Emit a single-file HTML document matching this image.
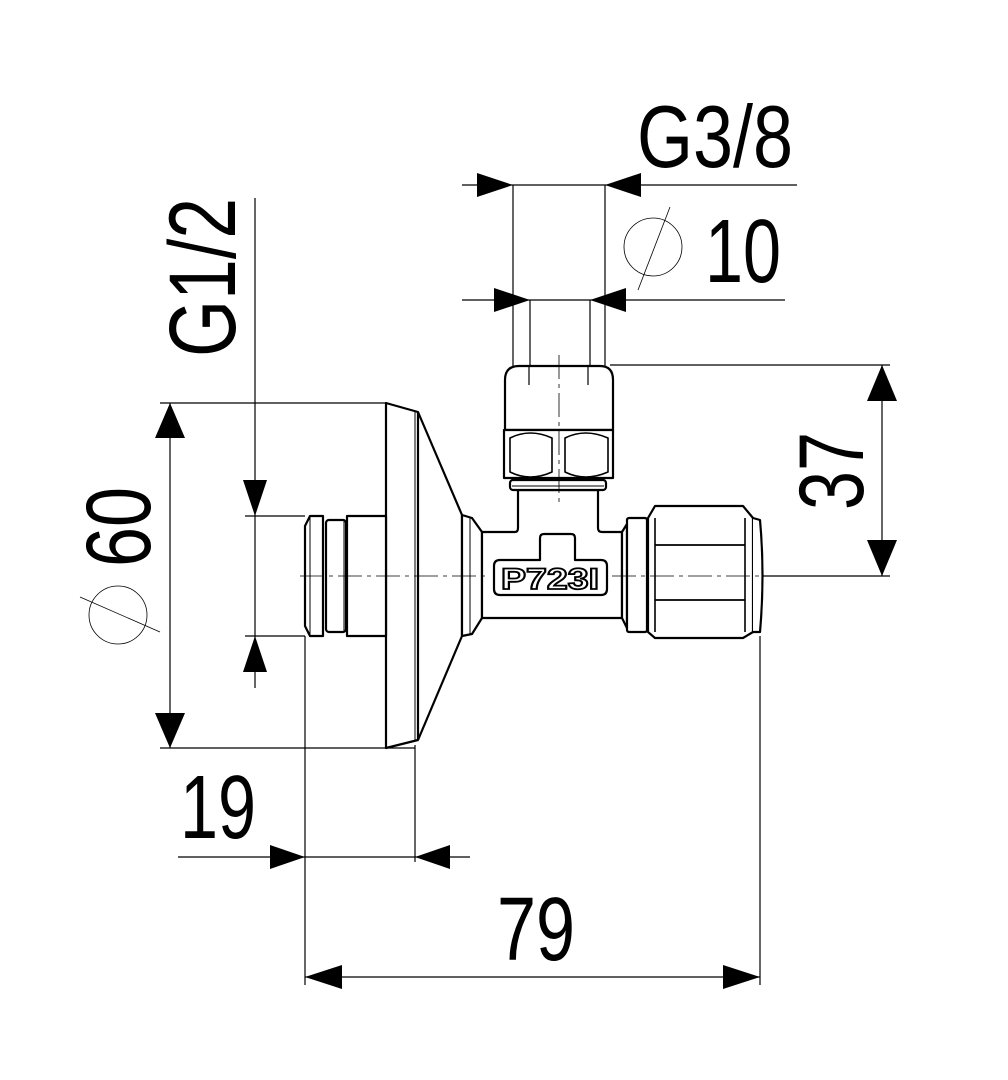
<!DOCTYPE html>
<html><head><meta charset="utf-8"><style>html,body{margin:0;padding:0;background:#fff}svg{display:block}</style></head><body>
<svg width="1008" height="1080" viewBox="0 0 1008 1080" xmlns="http://www.w3.org/2000/svg">
<g fill="none" stroke="#000" stroke-width="1.2">
<line x1="255" y1="198" x2="255" y2="688"/>
<line x1="245" y1="516" x2="305" y2="516"/>
<line x1="245" y1="636" x2="305" y2="636"/>
<line x1="170" y1="403" x2="170" y2="748"/>
<line x1="160" y1="403" x2="386" y2="403"/>
<line x1="160" y1="748" x2="415" y2="748"/>
<line x1="178" y1="857" x2="470" y2="857"/>
<line x1="305" y1="636" x2="305" y2="985"/>
<line x1="415" y1="745" x2="415" y2="862"/>
<line x1="305" y1="977" x2="760" y2="977"/>
<line x1="760" y1="636" x2="760" y2="985"/>
<line x1="882" y1="365" x2="882" y2="576"/>
<line x1="610" y1="365" x2="890" y2="365"/>
<line x1="762" y1="576" x2="890" y2="576"/>
<line x1="462" y1="185" x2="797" y2="185"/>
<line x1="513" y1="185" x2="513" y2="368"/>
<line x1="605" y1="185" x2="605" y2="368"/>
<line x1="462" y1="300" x2="785" y2="300"/>
<line x1="530" y1="300" x2="530" y2="385"/>
<line x1="590" y1="300" x2="590" y2="385"/>
<circle cx="118" cy="615" r="29" stroke-width="0.8"/>
<line x1="80" y1="597" x2="160" y2="632" stroke-width="0.8"/>
<circle cx="653" cy="247" r="29" stroke-width="0.8"/>
<line x1="638" y1="290" x2="670" y2="207" stroke-width="0.8"/>
</g>
<g fill="#000">
<polygon points="255,516 243,480 267,480"/>
<polygon points="255,636 243,672 267,672"/>
<polygon points="170,403 155,438 185,438"/>
<polygon points="170,748 155,713 185,713"/>
<polygon points="305,857 270,845 270,869"/>
<polygon points="415,857 450,845 450,869"/>
<polygon points="305,977 342,965 342,989"/>
<polygon points="760,977 723,965 723,989"/>
<polygon points="882,365 867,401 897,401"/>
<polygon points="882,576 867,540 897,540"/>
<polygon points="513,185 477,173 477,197"/>
<polygon points="605,185 641,173 641,197"/>
<polygon points="530,300 494,288 494,312"/>
<polygon points="590,300 626,288 626,312"/>
</g>
<g fill="#fff" stroke="#000" stroke-width="2.2" stroke-linejoin="round">
<path d="M386,403 L418,412 L462,515 L462,636 L418,740 L386,748 Z"/>
<line x1="418" y1="412" x2="418" y2="740"/>
<line x1="415" y1="412" x2="415" y2="740" stroke-width="1"/>
<rect x="347" y="516" width="39" height="120"/>
<path d="M305,526 L310,516 L323,516 L323,636 L310,636 L305,626 Z"/>
<line x1="310" y1="516" x2="310" y2="636" stroke-width="1"/>
<rect x="326" y="520" width="20" height="112" rx="3"/>
<line x1="344" y1="520" x2="344" y2="632" stroke-width="1"/>
<path d="M462,515 L472,518 L482,532 L482,618 L472,634 L462,636 Z"/>
<line x1="470" y1="518" x2="470" y2="634" stroke-width="1"/>
<path d="M482,532 L515,532 Q518,532 518,528 L518,490 L598,490 L598,528 Q598,532 602,532 L622,532 L622,618 L482,618 Z"/>
<rect x="510" y="480" width="96" height="10" rx="3"/>
<line x1="512" y1="486" x2="604" y2="486" stroke-width="1"/>
<path d="M505,380 Q505,366 519,366 L600,366 Q613,366 613,380 L613,430 L505,430 Z"/>
<rect x="504" y="430" width="109" height="48"/>
<path d="M510,438 Q530,428 552,438 L552,472 Q530,482 510,472 Z" stroke-width="1.6"/>
<path d="M565,438 Q585,428 608,438 L608,472 Q585,482 565,472 Z" stroke-width="1.6"/>
<line x1="529" y1="367" x2="529" y2="385" stroke-width="1.2"/>
<line x1="588" y1="367" x2="588" y2="385" stroke-width="1.2"/>
<path d="M494,566 Q494,560 500,560 L540,560 L540,538 Q540,534 544,534 L571,534 Q575,534 575,538 L575,560 L601,560 Q607,560 607,566 L607,589 Q607,595 601,595 L500,595 Q494,595 494,589 Z"/>
<path d="M622,532 L627,524 L627,628 L622,618 Z"/>
<rect x="627" y="518" width="20" height="114" rx="2"/>
<path d="M648,518 L655,506 L743,506 L753,518 L753,632 L743,638 L655,638 L648,632 Z"/>
<line x1="655" y1="545" x2="745" y2="545" stroke-width="1.8"/>
<line x1="655" y1="600" x2="745" y2="600" stroke-width="1.8"/>
<path d="M655,518 L655,632 M745,518 L745,632" stroke-width="1.6"/>
<path d="M753,518 L760,520 Q765,575 760,632 L753,632" />
</g>
<g fill="none" stroke="#000" stroke-width="0.8" stroke-dasharray="24,5,4,5">
<line x1="300" y1="576" x2="490" y2="576"/>
<line x1="612" y1="576" x2="780" y2="576"/>
<line x1="559" y1="355" x2="559" y2="505"/>
</g>
<g font-family="Liberation Sans, sans-serif" fill="#000">
<text x="501" y="589" font-size="30" font-weight="bold" textLength="98" lengthAdjust="spacingAndGlyphs" fill="#fff" stroke="#000" stroke-width="1.8">P723I</text>
<text x="637" y="167" font-size="88" textLength="156" lengthAdjust="spacingAndGlyphs">G3/8</text>
<text x="705" y="282" font-size="90" textLength="76" lengthAdjust="spacingAndGlyphs">10</text>
<text x="180" y="838" font-size="90" textLength="76" lengthAdjust="spacingAndGlyphs">19</text>
<text x="497" y="960" font-size="90" textLength="78" lengthAdjust="spacingAndGlyphs">79</text>
<text transform="translate(235,357) rotate(-90)" font-size="95" textLength="159" lengthAdjust="spacingAndGlyphs">G1/2</text>
<text transform="translate(150,567) rotate(-90)" font-size="92" textLength="80" lengthAdjust="spacingAndGlyphs">60</text>
<text transform="translate(863,510) rotate(-90)" font-size="92" textLength="78" lengthAdjust="spacingAndGlyphs">37</text>
</g>
</svg>
</body></html>
